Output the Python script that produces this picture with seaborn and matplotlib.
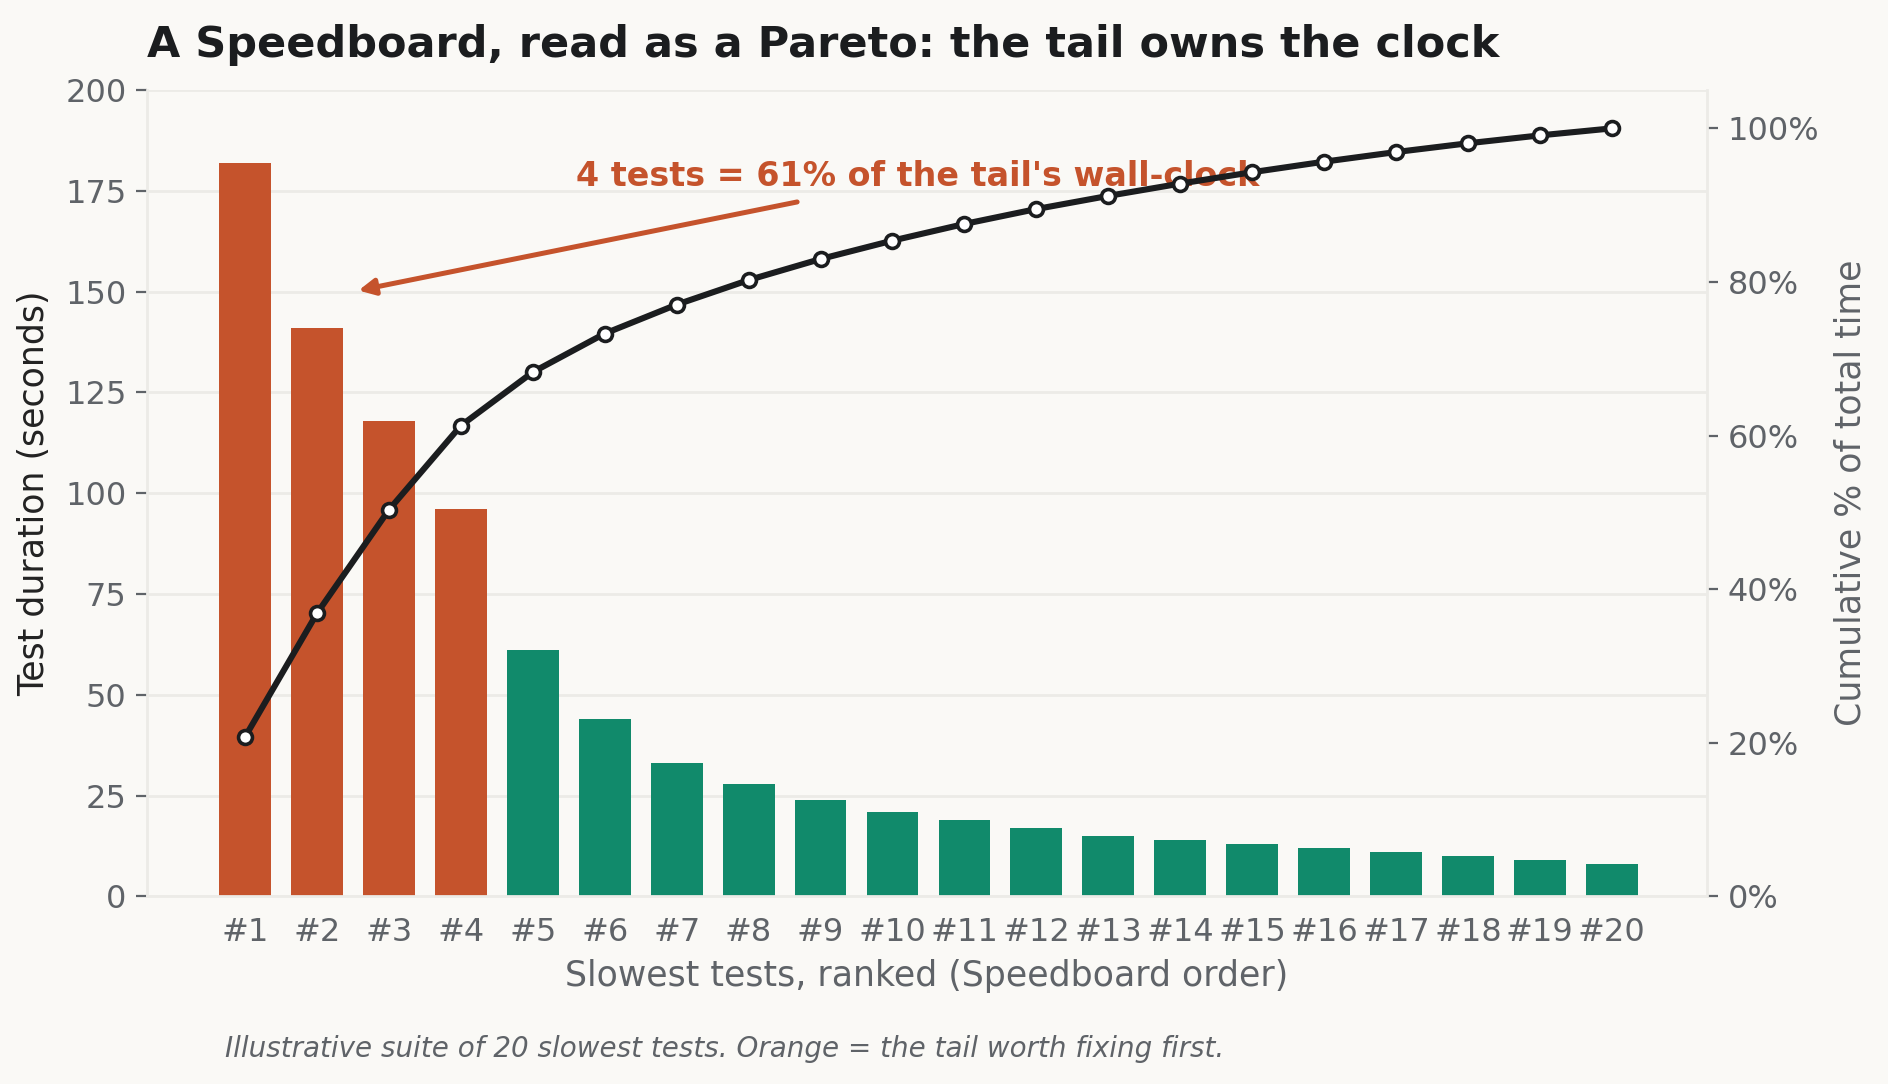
import numpy as np
import pandas as pd
import matplotlib
matplotlib.use('Agg')
import matplotlib.pyplot as plt
import seaborn as sns
from matplotlib.ticker import PercentFormatter

# data: 20 slowest tests, seconds
tests = [f"#{i}" for i in range(1, 21)]
durations = [182, 141, 118, 96, 61, 44, 33, 28, 24, 21, 19, 17, 15, 14, 13, 12, 11, 10, 9, 8]
tail_count = 4

BG = "#FAF9F6"
ORANGE = "#C5532C"
GREEN = "#118A6B"
INK = "#1B1D1F"
GREY = "#5F6368"
GRID = "#ECEBE7"

df = pd.DataFrame({"test": tests, "duration": durations})
df["group"] = ["tail" if i < tail_count else "rest" for i in range(len(df))]
df["cum_pct"] = df["duration"].cumsum() / df["duration"].sum() * 100
df["pos"] = np.arange(len(df))
tail_share = df["duration"][:tail_count].sum() / df["duration"].sum() * 100

sns.set_theme(style="white")
plt.rcParams["font.family"] = ["DejaVu Sans"]

fig, ax = plt.subplots(figsize=(9.44, 5.42), dpi=200)
fig.patch.set_facecolor(BG)
ax.set_facecolor(BG)
fig.subplots_adjust(left=0.078, right=0.904, top=0.917, bottom=0.173)

# bars
sns.barplot(data=df, x="test", y="duration", hue="group",
            palette={"tail": ORANGE, "rest": GREEN}, width=0.72,
            dodge=False, saturation=1, legend=False, linewidth=0, ax=ax)
ax.set_axisbelow(True)
ax.yaxis.grid(True, color=GRID, lw=1.0)
ax.set_ylim(0, 200)
ax.set_yticks(range(0, 201, 25))

# cumulative line
ax2 = ax.twinx()
sns.lineplot(data=df, x="pos", y="cum_pct", ax=ax2, color=INK, lw=2.2,
             marker="o", markersize=5, markerfacecolor="white",
             markeredgecolor=INK, markeredgewidth=1.3)
ax2.set_ylim(0, 105)
ax2.set_yticks(range(0, 101, 20))
ax2.yaxis.set_major_formatter(PercentFormatter(decimals=0))
ax.set_xlim(-1.36, 20.32)

# spines / ticks
for a in (ax, ax2):
    a.spines["top"].set_visible(False)
    for s in ("left", "right", "bottom"):
        a.spines[s].set_color(GRID)
        a.spines[s].set_linewidth(1.0)
ax.spines["right"].set_visible(False)
ax2.spines["left"].set_visible(False)
ax2.spines["bottom"].set_visible(False)

ax.tick_params(axis="both", colors=GREY, labelsize=11.5, length=4, width=0.8)
ax2.tick_params(axis="y", colors=GREY, labelsize=11.5, length=4, width=0.8)

ax.set_xlabel("Slowest tests, ranked (Speedboard order)", fontsize=12.5, color=GREY, labelpad=4)
ax.set_ylabel("Test duration (seconds)", fontsize=12.5, color="#222222", labelpad=5)
ax2.set_ylabel("Cumulative % of total time", fontsize=12.5, color=GREY, labelpad=5)

ax.set_title("A Speedboard, read as a Pareto: the tail owns the clock",
             loc="left", fontsize=15.5, fontweight="bold", color=INK, pad=12)

# annotation
ax.text(9.35, 178.5, f"{tail_count} tests = {tail_share:.0f}% of the tail's wall-clock",
        ha="center", va="center", fontsize=12, fontweight="bold", color=ORANGE)
ax.annotate("", xy=(1.5, 150), xytext=(7.75, 172.5),
            arrowprops=dict(arrowstyle="-|>", color=ORANGE, lw=1.8, mutation_scale=12))

fig.text(0.119, 0.032, "Illustrative suite of 20 slowest tests. Orange = the tail worth fixing first.",
         fontsize=10, style="italic", color=GREY, va="center")

fig.savefig("out.png", dpi=200, facecolor=BG)
